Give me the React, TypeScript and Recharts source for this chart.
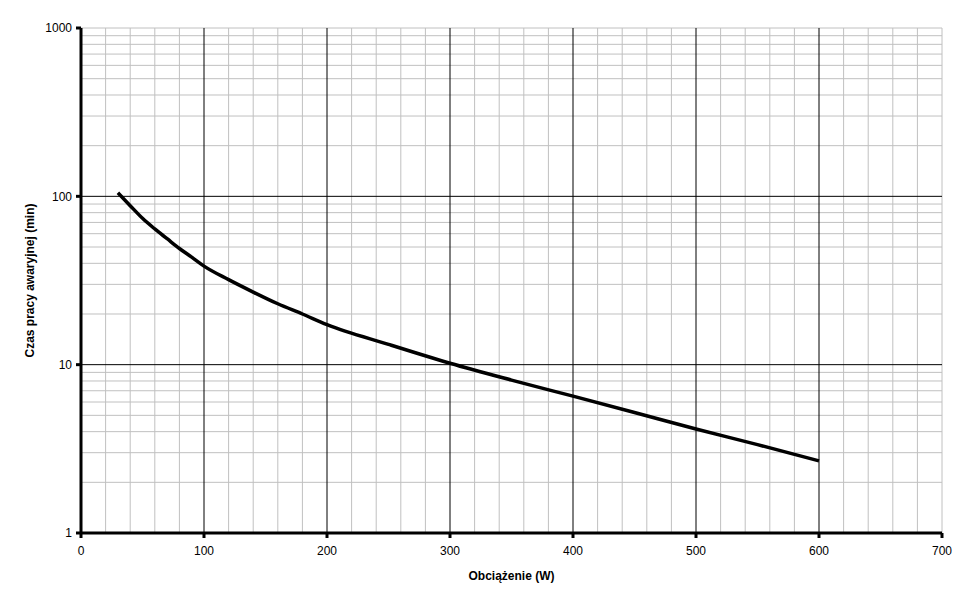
import { LineChart, Line, XAxis, YAxis, ReferenceLine, Label } from "recharts";

// Obciążenie (W) vs czas pracy awaryjnej (min)
const loadW = [30, 40, 50, 60, 70, 80, 90, 100, 120, 140, 160, 180, 200, 250, 300, 350, 400, 450, 500, 550, 600];
const runtimeMin = [105, 88, 74, 64, 56, 49, 43.5, 38.5, 32, 27, 23, 20, 17.3, 13.2, 10.2, 8.1, 6.5, 5.2, 4.15, 3.35, 2.68];

const xTicks = [0, 100, 200, 300, 400, 500, 600, 700];
const yTicks = [1, 10, 100, 1000];

const minorX = [20, 40, 60, 80, 120, 140, 160, 180, 220, 240, 260, 280, 320, 340, 360, 380, 420, 440, 460, 480, 520, 540, 560, 580, 620, 640, 660, 680, 700];
const majorX = [100, 200, 300, 400, 500, 600];
const minorY = [2, 3, 4, 5, 6, 7, 8, 9, 20, 30, 40, 50, 60, 70, 80, 90, 200, 300, 400, 500, 600, 700, 800, 900, 1000];
const majorY = [10, 100];

const data = loadW.map((w, i) => ({ w, t: runtimeMin[i] }));

const font = "'Liberation Sans', Arial, sans-serif";

export default function App() {
  return (
    <LineChart
      width={962}
      height={590}
      data={data}
      margin={{ top: 20, right: 28, bottom: 0, left: 0 }}
      style={{ fontFamily: font }}
    >
      {minorX.map((x) => (
        <ReferenceLine key={"mx" + x} x={x} stroke="#c0c0c0" strokeWidth={1} />
      ))}
      {minorY.map((y) => (
        <ReferenceLine key={"my" + y} y={y} stroke="#c0c0c0" strokeWidth={1} />
      ))}
      {majorX.map((x) => (
        <ReferenceLine key={"Mx" + x} x={x} stroke="#000" strokeWidth={1} />
      ))}
      {majorY.map((y) => (
        <ReferenceLine key={"My" + y} y={y} stroke="#000" strokeWidth={1} />
      ))}
      <XAxis
        dataKey="w"
        type="number"
        domain={[0, 700]}
        ticks={xTicks}
        interval={0}
        height={65}
        axisLine={{ stroke: "#000", strokeWidth: 3 }}
        tickLine={{ stroke: "#000", strokeWidth: 3 }}
        tickSize={5}
        tickMargin={8}
        tick={{ fill: "#000", fontSize: 12, fontFamily: font }}
      >
        <Label
          content={({ viewBox }: any) => (
            <text
              x={viewBox.x + viewBox.width / 2}
              y={viewBox.y + 47}
              textAnchor="middle"
              fontSize={12}
              fontWeight="bold"
              fontFamily={font}
              fill="#000"
            >
              Obciążenie (W)
            </text>
          )}
        />
      </XAxis>
      <YAxis
        type="number"
        scale="log"
        domain={[1, 1000]}
        ticks={yTicks}
        interval={0}
        allowDataOverflow
        width={73}
        axisLine={{ stroke: "#000", strokeWidth: 3 }}
        tickLine={{ stroke: "#000", strokeWidth: 3 }}
        tickSize={5}
        tickMargin={4}
        tick={{ fill: "#000", fontSize: 12, fontFamily: font }}
      >
        <Label
          content={({ viewBox }: any) => {
            const cx = viewBox.x + 26;
            const cy = viewBox.y + viewBox.height / 2;
            return (
              <text
                x={cx}
                y={cy}
                transform={`rotate(-90, ${cx}, ${cy})`}
                textAnchor="middle"
                fontSize={12}
                fontWeight="bold"
                fontFamily={font}
                fill="#000"
              >
                Czas pracy awaryjnej (min)
              </text>
            );
          }}
        />
      </YAxis>
      <Line
        type="monotone"
        dataKey="t"
        stroke="#000"
        strokeWidth={3.5}
        dot={false}
        isAnimationActive={false}
      />
    </LineChart>
  );
}
